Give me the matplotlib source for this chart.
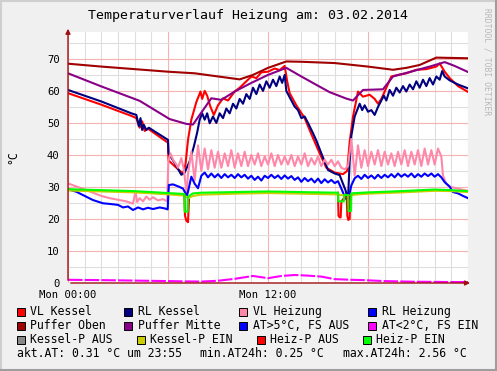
import numpy as np
import matplotlib.pyplot as plt
from matplotlib.patches import Rectangle
from matplotlib.lines import Line2D

plt.rcParams['font.family'] = 'DejaVu Sans Mono'

# ---- data (hours since Mon 00:00, degrees C) ----
puffer_oben_h = [0, 2, 4, 6, 7.6, 10.3, 11.1, 12.0, 13.1, 14, 16, 18, 19.5, 20.3, 21.1, 22.1, 23, 24]
puffer_oben_v = [68.5, 67.6, 66.8, 66.0, 65.5, 63.6, 65.0, 67.2, 69.2, 69.1, 68.7, 67.6, 66.6, 67.2, 68.1, 70.4, 70.3, 70.2]

puffer_mitte_h = [0, 2, 4.3, 6.1, 7.1, 7.5, 7.9, 8.6, 9.2, 10, 11, 12, 13.1, 14, 14.9, 15.7, 16.7, 17.1,
                  17.7, 18.9, 19.5, 20.5, 21.7, 22.6, 23.2, 24]
puffer_mitte_v = [65.5, 61.4, 56.9, 51.2, 49.7, 49.5, 52.5, 57.7, 57.2, 59.8, 62.5, 65.0, 67.2, 64.5, 61.9, 59.6,
                  57.6, 57.0, 60.3, 60.5, 64.5, 65.9, 67.6, 69.0, 67.8, 65.9]

vl_kessel_h = [0, 2, 3.8, 4.1, 4.3, 4.45, 4.6, 4.8, 6.0, 6.03, 6.5, 6.9, 7.05, 7.2, 7.4, 7.7, 7.95, 8.05,
               8.2, 8.35, 8.55, 8.75, 9.0, 9.3, 9.6, 10.0, 10.3, 10.6, 11.0, 11.3, 11.6, 12.0, 12.4, 12.7,
               13.0, 13.15, 13.3, 13.7, 14.2, 14.6, 15.1, 15.5, 16.0, 16.5, 16.75, 16.9, 17.1, 17.4, 17.7,
               18.1, 18.4, 18.6, 18.8, 19.0, 19.4, 19.8, 20.3, 20.9, 21.5, 22.1, 22.3, 22.6, 22.9, 23.4, 24]
vl_kessel_v = [59.3, 55.7, 52.2, 51.5, 48.5, 50.5, 47.5, 48.2, 43.8, 38.3, 36.0, 34.2, 37.0, 44.7, 51.0, 56.5,
               59.8, 57.5, 60.0, 58.5, 55.0, 52.5, 55.5, 57.7, 57.0, 59.8, 61.0, 62.5, 64.5, 64.0, 65.8, 66.0,
               67.0, 66.5, 67.8, 63.0, 59.3, 55.5, 51.5, 46.5, 40.5, 36.0, 34.5, 34.0, 35.0, 44.0, 52.0, 59.8,
               58.2, 58.8, 57.5, 56.0, 57.5, 59.8, 64.5, 65.0, 65.5, 66.6, 66.8, 67.6, 68.6, 66.0, 64.0, 61.5, 59.7]

rl_kessel_h = [0, 2, 3.8, 4.1, 4.25, 4.35, 4.45, 4.55, 4.7, 4.85, 6.0, 6.03, 6.4, 6.8, 7.0, 7.3, 7.55, 7.75,
               7.9, 8.05, 8.2, 8.35, 8.5, 8.7, 8.9, 9.1, 9.3, 9.5, 9.7, 9.9, 10.1, 10.3, 10.5, 10.7, 10.9,
               11.1, 11.3, 11.5, 11.7, 11.9, 12.1, 12.3, 12.5, 12.7, 12.85, 13.0, 13.1, 13.3, 13.6, 13.8,
               14.0, 14.2, 14.4, 14.7, 14.9, 15.2, 15.6, 16.0, 16.3, 16.5, 16.65, 16.8, 16.9, 17.0, 17.2,
               17.35, 17.5, 17.65, 17.8, 18.0, 18.2, 18.4, 18.6, 18.8, 18.95, 19.1, 19.3, 19.5, 19.7, 19.9,
               20.1, 20.3, 20.5, 20.7, 20.9, 21.1, 21.3, 21.5, 21.7, 21.9, 22.1, 22.3, 22.45, 22.6, 22.9,
               23.4, 24]
rl_kessel_v = [60.3, 56.7, 53.0, 52.5, 49.0, 51.5, 47.8, 49.4, 47.8, 48.5, 44.7, 40.5, 37.5, 33.8, 34.5, 38.0,
               42.6, 47.0, 51.0, 53.0, 51.0, 53.0, 49.9, 52.0, 50.0, 53.0, 51.5, 54.5, 53.0, 56.0, 54.5, 57.5,
               56.0, 59.0, 57.5, 61.0, 59.0, 62.0, 60.0, 63.0, 61.0, 63.5, 61.5, 64.5, 62.5, 65.0, 60.0, 58.0,
               55.1, 54.0, 51.5, 52.0, 50.0, 46.8, 44.5, 40.5, 35.3, 34.2, 33.7, 31.0, 29.0, 26.0, 38.0, 46.0,
               52.0, 54.0, 56.0, 54.0, 55.5, 53.5, 54.0, 52.5, 55.0, 57.0, 58.5, 57.0, 60.3, 58.5, 61.0, 59.5,
               61.5, 59.8, 62.0, 60.5, 63.0, 61.0, 63.5, 61.5, 64.0, 62.0, 64.5, 63.5, 66.2, 64.5, 63.3, 62.0,
               60.8]

# VL / RL Heizung: calm part before 7.2 h, 0.2 h samples 7.2..22.4 h, cooling after
vl_heiz_pre_h = [0, 1, 2, 2.5, 3, 3.5, 3.9, 4.05, 4.15, 4.3, 4.5, 4.7, 4.9, 5.1, 5.4, 5.7, 5.95, 6.02, 6.15,
                 6.3, 6.5, 6.6, 6.8, 6.95, 7.05, 7.12]
vl_heiz_pre_v = [31.1, 29.2, 27.2, 26.5, 26.0, 25.5, 24.8, 28.5, 25.3, 26.5, 25.5, 27.0, 26.0, 26.8, 25.8, 26.2,
                 25.5, 38.0, 40.5, 38.5, 37.0, 36.0, 39.0, 35.5, 31.0, 28.0]
vl_heiz_mid_v = [34, 41, 32, 43, 35, 42, 35.5, 41.5, 36, 41,
                 36, 40.5, 36.5, 41.5, 36, 40.5, 36.5, 41, 36.5, 40,
                 37, 40.5, 36.5, 39.5, 37, 40.5, 36.5, 40, 37, 39.5,
                 37, 40, 36.5, 39.5, 37, 40.5, 36.5, 39, 37, 39.5,
                 36.5, 38.5, 37, 38.5, 36.5, 38, 36, 35.5, 36.5, 45,
                 33.5, 43, 36, 41.5, 36.5, 41, 37, 41.5, 36.5, 41,
                 37, 40.5, 36.5, 41, 37, 41.5, 36.5, 41, 37, 41.5,
                 36.5, 42, 37, 41.5, 37, 42, 39.5]
vl_heiz_post_h = [22.5, 22.7, 22.9, 23.3, 23.6, 24]
vl_heiz_post_v = [33.5, 31.0, 30.1, 29.6, 29.2, 28.8]

rl_heiz_pre_h = [0, 0.5, 1, 1.5, 2.1, 2.5, 3, 3.3, 3.6, 3.9, 4.2, 4.5, 4.8, 5.1, 5.5, 5.8, 5.98, 6.05, 6.3,
                 6.6, 6.9, 7.05, 7.12]
rl_heiz_pre_v = [29.3, 28.5, 27.2, 25.9, 24.9, 24.7, 24.4, 23.6, 23.9, 22.8, 23.6, 23.0, 23.5, 23.1, 23.6, 23.3,
                 23.0, 30.6, 30.8, 30.2, 29.5, 28.0, 27.0]
rl_heiz_mid_v = [28.5, 33.2, 31, 29.6, 33.5, 34.5, 33, 34.2, 33, 34,
                 32.8, 34, 33, 33.8, 32.8, 34, 33, 33.8, 32.6, 33.5,
                 32.2, 33.2, 32, 33.5, 32.8, 33.8, 32.8, 33.6, 32.5, 33.6,
                 32.6, 33.4, 32.2, 33, 31.6, 32.8, 31.8, 32.6, 31.4, 32.6,
                 31.2, 32.4, 31.4, 32.2, 31.2, 31.8, 29.5, 27, 25.5, 30.5,
                 32.7, 33.5, 32.5, 33.8, 32.8, 33.6, 32.6, 33.8, 32.8, 33.8,
                 33, 34, 33, 34.2, 33.2, 34, 33.2, 34.2, 33, 34,
                 33.2, 34.2, 33.4, 34.2, 33.2, 34, 33]
rl_heiz_post_h = [22.6, 22.9, 23.1, 23.4, 23.7, 24]
rl_heiz_post_v = [31.5, 30.1, 28.4, 28.0, 27.2, 26.5]
mid_h = np.linspace(7.2, 22.4, 77)

at_kalt_h = [0, 2, 4, 6, 7, 8, 9, 10, 11.1, 12.0, 12.8, 13.6, 14.4, 15.2, 16, 17, 17.7, 19, 20.7, 22, 23, 24]
at_kalt_v = [1.0, 0.9, 0.75, 0.6, 0.5, 0.45, 0.7, 1.3, 2.2, 1.5, 2.2, 2.5, 2.3, 2.0, 1.2, 1.0, 0.9, 0.6, 0.4,
             0.35, 0.3, 0.3]

kessel_p_ein_h = [0, 2, 4, 6, 7.0, 7.2, 7.5, 8, 10, 12, 14, 16, 16.8, 17.2, 18, 20, 22, 23, 24]
kessel_p_ein_v = [28.9, 28.6, 28.3, 27.7, 27.3, 26.5, 27.2, 27.6, 27.9, 28.1, 27.9, 27.7, 27.2, 27.6, 27.9,
                  28.3, 28.8, 28.7, 28.4]

heiz_p_aus_h = [6.98, 7.02, 7.1, 7.2, 7.26, 7.3, 16.2, 16.23, 16.3, 16.36, 16.4, 16.72, 16.76, 16.82, 16.9, 16.94]
heiz_p_aus_v = [27.8, 21.0, 19.5, 19.0, 26.0, np.nan, 28.2, 21.0, 20.5, 20.5, 25.5, 27.5, 21.0, 19.7, 20.0, 27.0]

heiz_p_ein_h = [0, 2, 4, 6, 6.98, 7.0, 7.18, 7.2, 7.5, 8, 10, 12, 14, 16.2, 16.22, 16.55, 16.58, 16.8, 16.82,
                16.98, 17.0, 18, 20, 22, 23, 24]
heiz_p_ein_v = [29.3, 29.0, 28.7, 28.1, 27.8, 22.3, 22.3, 27.0, 28.0, 28.2, 28.4, 28.6, 28.4, 28.2, 25.5, 25.5,
                27.5, 27.5, 22.5, 22.5, 28.0, 28.3, 28.7, 29.2, 29.0, 28.7]

legend_labels = [['VL Kessel', 'RL Kessel', 'VL Heizung', 'RL Heizung'],
                 ['Puffer Oben', 'Puffer Mitte', 'AT>5°C, FS AUS', 'AT<2°C, FS EIN'],
                 ['Kessel-P AUS', 'Kessel-P EIN', 'Heiz-P AUS', 'Heiz-P EIN']]
legend_colors = [['#ff0000', '#000080', '#ff88aa', '#0000ff'],
                 ['#a00000', '#880088', '#0000ff', '#ff00ff'],
                 ['#888888', '#cccc00', '#ff0000', '#00ff00']]
x_ticklabels = ['Mon 00:00', '', 'Mon 12:00', '']
stats = ['akt.AT: 0.31 °C um 23:55', 'min.AT24h: 0.25 °C', 'max.AT24h: 2.56 °C']

# ---- figure ----
W, H = 497, 371
fig = plt.figure(figsize=(W / 100, H / 100), dpi=100, facecolor='#f0f0f0')
x0, x1, y0, y1 = 68, 468, 283, 32
ax = fig.add_axes([x0 / W, 1 - y0 / H, (x1 - x0) / W, (y0 - y1) / H])
ax.set_facecolor('white')
ax.set_xlim(0, 24)
ax.set_ylim(0, 78.4)

ax.set_xticks([0, 6, 12, 18])
ax.set_xticklabels(x_ticklabels)
ax.set_xticks(np.arange(0, 25, 1), minor=True)
ax.set_yticks(np.arange(0, 80, 10))
ax.set_yticks(np.arange(0, 80, 5), minor=True)
ax.grid(which='minor', color='#dedede', lw=0.8)
ax.grid(which='major', color='#f4b4b4', lw=0.8)
ax.set_axisbelow(True)
ax.tick_params(which='both', length=0, labelsize=7.6, colors='black')
ax.tick_params(axis='x', pad=5)
ax.tick_params(axis='y', pad=6)
for s in ax.spines.values():
    s.set_visible(False)

lw = 1.5
ax.plot(vl_kessel_h, vl_kessel_v, color='#ff0000', lw=lw)
ax.plot(rl_kessel_h, rl_kessel_v, color='#000080', lw=lw)
ax.plot(vl_heiz_pre_h + list(mid_h) + vl_heiz_post_h, vl_heiz_pre_v + vl_heiz_mid_v + vl_heiz_post_v,
        color='#ff88aa', lw=lw)
ax.plot(rl_heiz_pre_h + list(mid_h) + rl_heiz_post_h, rl_heiz_pre_v + rl_heiz_mid_v + rl_heiz_post_v,
        color='#0000ff', lw=lw)
ax.plot(puffer_oben_h, puffer_oben_v, color='#a00000', lw=lw)
ax.plot(puffer_mitte_h, puffer_mitte_v, color='#880088', lw=lw)
ax.plot(at_kalt_h, at_kalt_v, color='#ff00ff', lw=lw, ls=(0, (7, 1)))
ax.plot(kessel_p_ein_h, kessel_p_ein_v, color='#cccc00', lw=lw)
ax.plot(heiz_p_aus_h, heiz_p_aus_v, color='#ff0000', lw=lw)
ax.plot(heiz_p_ein_h, heiz_p_ein_v, color='#00ff00', lw=lw)

# axes with arrows
axis_col = '#a01010'
ax.annotate('', xy=(1.012, 0), xytext=(0, 0), xycoords='axes fraction',
            arrowprops=dict(arrowstyle='-|>', color=axis_col, lw=1, mutation_scale=7), annotation_clip=False)
ax.annotate('', xy=(0, 1.024), xytext=(0, 0), xycoords='axes fraction',
            arrowprops=dict(arrowstyle='-|>', color=axis_col, lw=1, mutation_scale=7), annotation_clip=False)

# title and side labels
fig.text(248 / W, 1 - 16 / H, 'Temperaturverlauf Heizung am: 03.02.2014', ha='center', va='center', fontsize=9.5)
fig.text(13 / W, 1 - 157 / H, '°C', rotation=90, ha='center', va='center', fontsize=8.3)
fig.text(487 / W, 1 - 62 / H, 'RRDTOOL / TOBI OETIKER', rotation=270, ha='center', va='center',
         fontsize=5.8, color='#b8b8b8')

# legend
row_y = [311.5, 325.5, 339.5]
sq_x = [[16.7, 124, 239.3, 368.3], [16.7, 124, 239.3, 368.3], [16.7, 136.7, 256.7, 362.7]]
for r in range(3):
    for c in range(4):
        sx, sy = sq_x[r][c], row_y[r]
        fig.patches.append(Rectangle((sx / W, 1 - (sy + 4) / H), 8 / W, 8 / H, transform=fig.transFigure,
                                     facecolor=legend_colors[r][c], edgecolor='black', lw=0.7))
        fig.text((sx + 13.5) / W, 1 - sy / H, legend_labels[r][c], ha='left', va='center', fontsize=8.3)
for sx, txt in zip([16.7, 200, 342.7], stats):
    fig.text(sx / W, 1 - 353.5 / H, txt, ha='left', va='center', fontsize=8.3)

# 3d-ish frame
fig.lines.append(Line2D([0, 1], [1 - 1 / H, 1 - 1 / H], transform=fig.transFigure, color='#cfcfcf', lw=1.5))
fig.lines.append(Line2D([1 / W, 1 / W], [0, 1], transform=fig.transFigure, color='#cfcfcf', lw=1.5))
fig.lines.append(Line2D([0, 1], [1 / H, 1 / H], transform=fig.transFigure, color='#9e9e9e', lw=1.5))
fig.lines.append(Line2D([1 - 1 / W, 1 - 1 / W], [0, 1], transform=fig.transFigure, color='#9e9e9e', lw=1.5))

fig.savefig('out.png', dpi=100, facecolor=fig.get_facecolor())
